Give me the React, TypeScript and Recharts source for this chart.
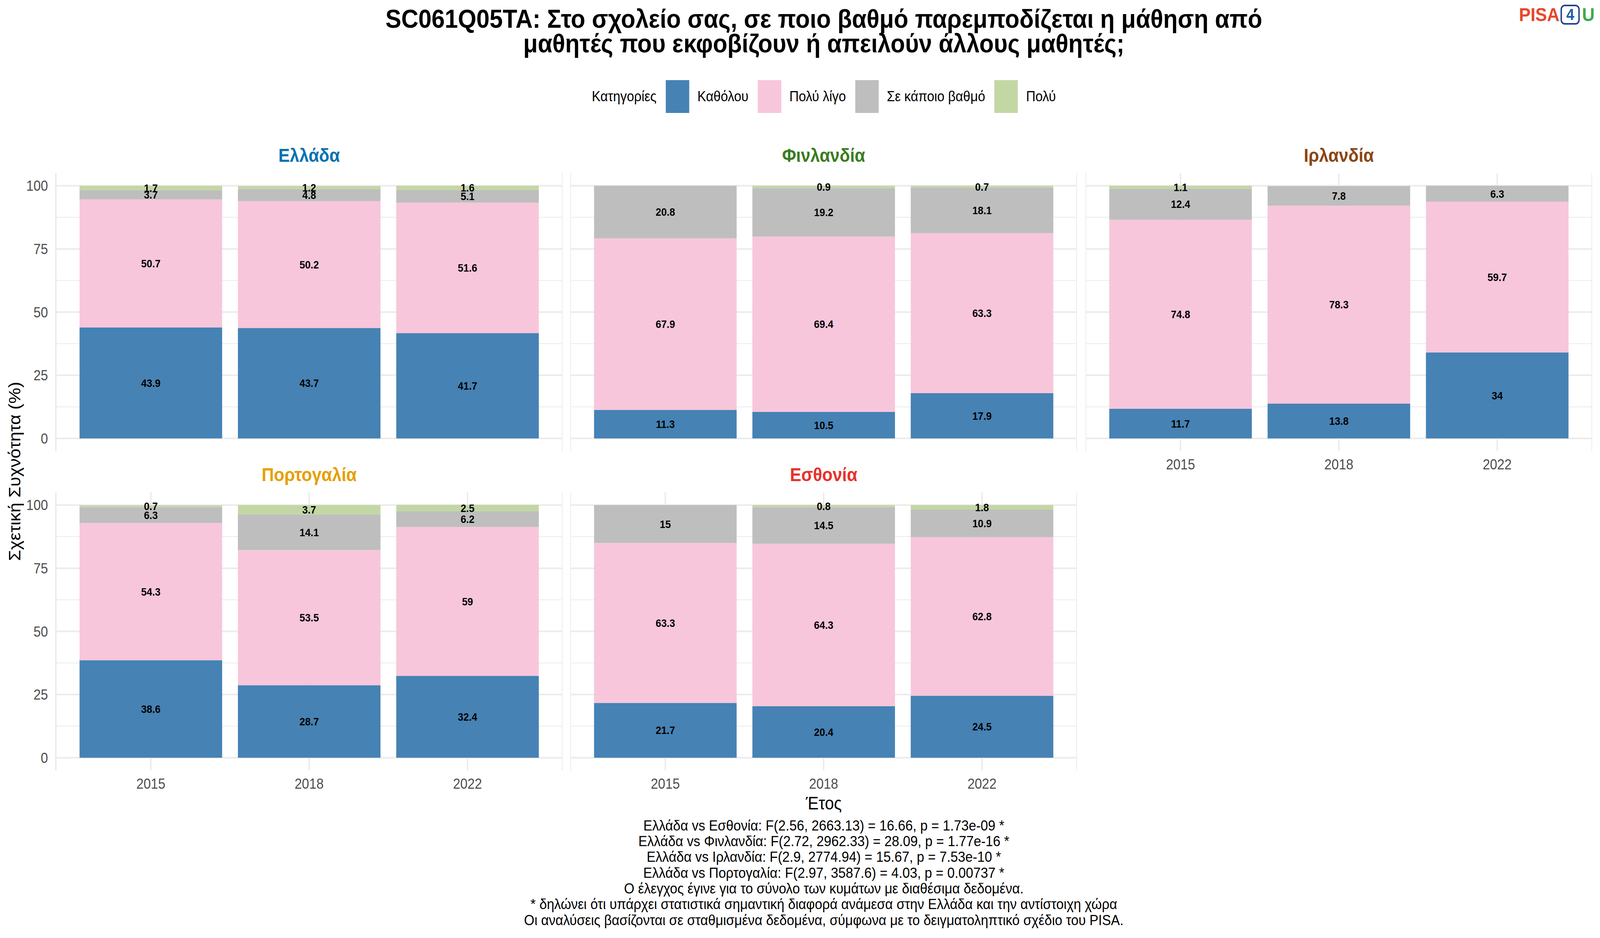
import React from 'react';
import { BarChart, Bar, XAxis, YAxis, CartesianGrid, LabelList } from 'recharts';

// ---------- data ----------
const years = ['2015', '2018', '2022'];
const categoryNames = ['Καθόλου', 'Πολύ λίγο', 'Σε κάποιο βαθμό', 'Πολύ'];
const categoryKeys = ['katholou', 'polyLigo', 'kapoioVathmo', 'poly'];

// rows = years, columns = categories (bottom to top)
const elladaValues = [
  [43.9, 50.7, 3.7, 1.7],
  [43.7, 50.2, 4.8, 1.2],
  [41.7, 51.6, 5.1, 1.6],
];
const finlandiaValues = [
  [11.3, 67.9, 20.8, null],
  [10.5, 69.4, 19.2, 0.9],
  [17.9, 63.3, 18.1, 0.7],
];
const irlandiaValues = [
  [11.7, 74.8, 12.4, 1.1],
  [13.8, 78.3, 7.8, null],
  [34, 59.7, 6.3, null],
];
const portogaliaValues = [
  [38.6, 54.3, 6.3, 0.7],
  [28.7, 53.5, 14.1, 3.7],
  [32.4, 59, 6.2, 2.5],
];
const esthoniaValues = [
  [21.7, 63.3, 15, null],
  [20.4, 64.3, 14.5, 0.8],
  [24.5, 62.8, 10.9, 1.8],
];

const countryNames = ['Ελλάδα', 'Φινλανδία', 'Ιρλανδία', 'Πορτογαλία', 'Εσθονία'];
const countryValues = [elladaValues, finlandiaValues, irlandiaValues, portogaliaValues, esthoniaValues];

const yTicks = [0, 25, 50, 75, 100];
const yMinorTicks = [12.5, 37.5, 62.5, 87.5];

const titleLines = [
  'SC061Q05TA: Στο σχολείο σας, σε ποιο βαθμό παρεμποδίζεται η μάθηση από',
  'μαθητές που εκφοβίζουν ή απειλούν άλλους μαθητές;',
];
const captionLines = [
  'Ελλάδα vs Εσθονία: F(2.56, 2663.13) = 16.66, p = 1.73e-09 *',
  'Ελλάδα vs Φινλανδία: F(2.72, 2962.33) = 28.09, p = 1.77e-16 *',
  'Ελλάδα vs Ιρλανδία: F(2.9, 2774.94) = 15.67, p = 7.53e-10 *',
  'Ελλάδα vs Πορτογαλία: F(2.97, 3587.6) = 4.03, p = 0.00737 *',
  'Ο έλεγχος έγινε για το σύνολο των κυμάτων με διαθέσιμα δεδομένα.',
  '* δηλώνει ότι υπάρχει στατιστικά σημαντική διαφορά ανάμεσα στην Ελλάδα και την αντίστοιχη χώρα',
  'Οι αναλύσεις βασίζονται σε σταθμισμένα δεδομένα, σύμφωνα με το δειγματοληπτικό σχέδιο του PISA.',
];

// ---------- styles / layout ----------
const FONT = '"Liberation Sans", Arial, Helvetica, sans-serif';
const categoryColors = ['#4682B4', '#F7C6DB', '#BEBEBE', '#C3D7A4'];
const countryColors = ['#0072B2', '#3A7D22', '#8B4513', '#E69F00', '#E8312A'];

// design space is 4500 x 2400; the visible viewport is ~4096 wide, so it is fitted horizontally
const DESIGN_W = 4500;
const VIEW_W = 4096;
const FIT_X = VIEW_W / DESIGN_W;

const COL_X = [157, 1604, 3053];
const ROW_Y = [443, 1260];
const PANEL_W = 1425;
const PANEL_H = 711;
const X_PAD = 44.5;
const X_AXIS_H = 70;
const Y_AXIS_W = 157;
const CENTER_X = 2317;

// panel placement: [col, row, showY, showX]
const panelPlacement = [
  [0, 0, true, false],
  [1, 0, false, false],
  [2, 0, false, true],
  [0, 1, true, true],
  [1, 1, false, true],
];

function Panel({ index }: { index: number }) {
  const [col, row, showY, showX] = panelPlacement[index] as [number, number, boolean, boolean];
  const values = countryValues[index];
  const data = years.map((year, i) => {
    const r: any = { year };
    categoryKeys.forEach((k, j) => {
      r[k] = values[i][j];
    });
    return r;
  });
  const left = COL_X[col];
  const top = ROW_Y[row];
  const yW = showY ? Y_AXIS_W : 0;
  return (
    <>
      <div
        style={{
          position: 'absolute',
          left,
          top: top - 45 - 30,
          width: PANEL_W,
          height: 60,
          lineHeight: '60px',
          textAlign: 'center',
          fontFamily: FONT,
          fontWeight: 'bold',
          fontSize: 48,
          color: countryColors[index],
        }}
      >
        {countryNames[index]}
      </div>
      <div style={{ position: 'absolute', left: left - yW, top }}>
        <BarChart
          width={PANEL_W + yW}
          height={PANEL_H + X_AXIS_H}
          data={data}
          margin={{ top: 0, right: 0, bottom: 0, left: 0 }}
          barCategoryGap="5%"
        >
          <CartesianGrid
            horizontalValues={yMinorTicks}
            vertical={false}
            stroke="#EBEBEB"
            strokeWidth={2}
          />
          <CartesianGrid horizontalValues={yTicks} stroke="#EBEBEB" strokeWidth={4} />
          <XAxis
            dataKey="year"
            padding={{ left: X_PAD, right: X_PAD }}
            tickLine={false}
            axisLine={false}
            tickSize={0}
            tickMargin={21}
            height={X_AXIS_H}
            tick={showX ? { fill: '#4D4D4D', fontSize: 36.7, fontFamily: FONT } : false}
          />
          <YAxis
            type="number"
            domain={[-5, 105]}
            ticks={yTicks}
            width={yW}
            hide={!showY}
            tickLine={false}
            axisLine={false}
            tickSize={0}
            tickMargin={22}
            tick={{ fill: '#4D4D4D', fontSize: 36.7, fontFamily: FONT }}
          />
          {categoryKeys.map((k, j) => (
            <Bar key={k} dataKey={k} stackId="s" fill={categoryColors[j]} isAnimationActive={false}>
              <LabelList
                dataKey={k}
                position="center"
                fill="#000000"
                fontSize={28}
                fontWeight="bold"
                fontFamily={FONT}
              />
            </Bar>
          ))}
        </BarChart>
      </div>
    </>
  );
}

export default function App() {
  return (
    <div
      style={{
        position: 'absolute',
        left: 0,
        top: 0,
        width: VIEW_W,
        height: 2400,
        background: '#FFFFFF',
        overflow: 'hidden',
      }}
    >
      <div
        style={{
          position: 'absolute',
          left: 0,
          top: 0,
          width: DESIGN_W,
          height: 2400,
          transform: `scaleX(${FIT_X})`,
          transformOrigin: '0 0',
          fontFamily: FONT,
          color: '#000',
        }}
      >
        {/* title */}
        <div
          style={{
            position: 'absolute',
            left: CENTER_X - 1500,
            top: 16.5,
            width: 3000,
            textAlign: 'center',
            fontWeight: 'bold',
            fontSize: 66.7,
            lineHeight: '63px',
            whiteSpace: 'nowrap',
          }}
        >
          {titleLines.map((t, i) => (
            <div key={i}>{t}</div>
          ))}
        </div>

        {/* logo */}
        <div
          style={{
            position: 'absolute',
            left: 4272,
            top: 12,
            height: 51,
            display: 'flex',
            alignItems: 'center',
            fontWeight: 'bold',
            fontSize: 49,
            lineHeight: '51px',
            whiteSpace: 'nowrap',
          }}
        >
          <span style={{ color: '#E8472B' }}>PISA</span>
          <span
            style={{
              boxSizing: 'border-box',
              marginLeft: 3,
              width: 54,
              height: 51,
              border: '4px solid #24408E',
              borderRadius: 12,
              color: '#1E5BA8',
              display: 'flex',
              alignItems: 'center',
              justifyContent: 'center',
              fontSize: 40,
            }}
          >
            4
          </span>
          <span style={{ color: '#3DAA4A', marginLeft: 6 }}>U</span>
        </div>

        {/* legend */}
        <div
          style={{
            position: 'absolute',
            left: CENTER_X,
            top: 205,
            height: 84,
            transform: 'translateX(-50%)',
            display: 'flex',
            alignItems: 'center',
            fontSize: 36.7,
            whiteSpace: 'nowrap',
          }}
        >
          <span style={{ marginRight: 26 }}>Κατηγορίες</span>
          {categoryNames.map((n, j) => (
            <React.Fragment key={n}>
              <span
                style={{
                  display: 'inline-block',
                  width: 66,
                  height: 84,
                  background: categoryColors[j],
                  marginLeft: j === 0 ? 0 : 26,
                }}
              />
              <span style={{ marginLeft: 23 }}>{n}</span>
            </React.Fragment>
          ))}
        </div>

        {countryNames.map((_, i) => (
          <Panel key={i} index={i} />
        ))}

        {/* y axis title */}
        <div
          style={{
            position: 'absolute',
            left: 42 - 300,
            top: 1206 - 27,
            width: 600,
            height: 54,
            lineHeight: '54px',
            textAlign: 'center',
            fontSize: 45.8,
            whiteSpace: 'nowrap',
            transform: 'rotate(-90deg)',
          }}
        >
          Σχετική Συχνότητα (%)
        </div>

        {/* x axis title */}
        <div
          style={{
            position: 'absolute',
            left: CENTER_X - 200,
            top: 2056 - 27,
            width: 400,
            height: 54,
            lineHeight: '54px',
            textAlign: 'center',
            fontSize: 45.8,
          }}
        >
          Έτος
        </div>

        {/* caption */}
        <div
          style={{
            position: 'absolute',
            left: CENTER_X - 1200,
            top: 2112 - 20.15,
            width: 2400,
            textAlign: 'center',
            fontSize: 37.5,
            lineHeight: '40.3px',
            whiteSpace: 'nowrap',
          }}
        >
          {captionLines.map((t, i) => (
            <div key={i}>{t}</div>
          ))}
        </div>
      </div>
    </div>
  );
}
